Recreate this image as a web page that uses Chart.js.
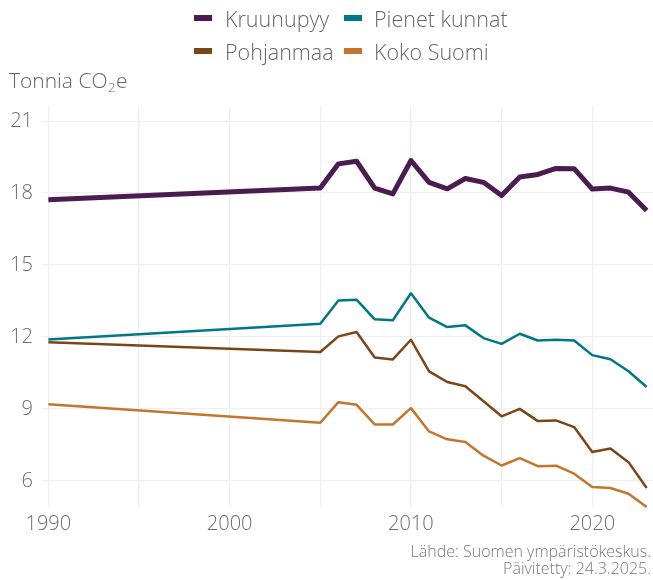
<!DOCTYPE html>
<html><head><meta charset="utf-8">
<script src="https://cdn.jsdelivr.net/npm/chart.js@4"></script>
<style>html,body{margin:0;padding:0;background:#fff}#wrap{width:653px;height:580px}</style>
</head><body><div id="wrap"><canvas id="c" width="653" height="580"></canvas></div>
<script>
const years = [1990,2005,2006,2007,2008,2009,2010,2011,2012,2013,2014,2015,2016,2017,2018,2019,2020,2021,2022,2023];
const kruunupyy = [17.72,18.21,19.22,19.33,18.21,17.97,19.36,18.45,18.18,18.61,18.45,17.90,18.67,18.78,19.03,19.02,18.17,18.21,18.04,17.28];
const pienetKunnat = [11.90,12.56,13.53,13.56,12.74,12.70,13.83,12.81,12.42,12.49,11.96,11.72,12.14,11.86,11.89,11.86,11.25,11.08,10.58,9.92];
const pohjanmaa = [11.79,11.38,12.03,12.21,11.15,11.07,11.89,10.57,10.13,9.95,9.33,8.70,9.01,8.50,8.53,8.25,7.21,7.36,6.79,5.71];
const kokoSuomi = [9.20,8.43,9.29,9.18,8.36,8.36,9.04,8.07,7.74,7.63,7.06,6.65,6.96,6.62,6.64,6.31,5.75,5.71,5.47,4.92];
const seriesNames = ['Kruunupyy','Pienet kunnat','Pohjanmaa','Koko Suomi'];
const xTicks = [1990,1995,2000,2005,2010,2015,2020];
const yTicks = [6,9,12,15,18,21];
const titleMain = 'Tonnia CO';
const titleSub = '2';
const titleEnd = 'e';
const captionLines = ['Lähde: Suomen ympäristökeskus.','Päivitetty: 24.3.2025.'];

const colors = ['#4b1c4f','#007884','#7a4619','#c5752b'];
const widths = [5,2.5,2.5,2.5];
const allSeries = [kruunupyy,pienetKunnat,pohjanmaa,kokoSuomi];
const FF = '"Open Sans", sans-serif';

const datasets = allSeries.map((s,i)=>({
  label: seriesNames[i],
  data: years.map((y,j)=>({x:y,y:s[j]})),
  borderColor: colors[i],
  backgroundColor: colors[i],
  borderWidth: widths[i],
  borderJoinStyle: 'round',
  pointRadius: 0,
  tension: 0,
  clip: false
}));

const extras = {
  id: 'extras',
  afterDraw(chart){
    const ctx = chart.ctx;
    ctx.save();
    const legPos = [[194,15,225,27],[344,15,374,27],[194,48,225,60],[344,48,374,60]];
    ctx.textBaseline = 'alphabetic';
    ctx.textAlign = 'left';
    ctx.font = '300 21.5px ' + FF;
    seriesNames.forEach((n,i)=>{
      const p = legPos[i];
      ctx.fillStyle = colors[i];
      ctx.fillRect(p[0],p[1],18,6);
      ctx.fillStyle = '#666666';
      ctx.fillText(n,p[2],p[3]);
    });
    ctx.fillStyle = '#666666';
    ctx.font = '300 21px ' + FF;
    ctx.fillText(titleMain, 9, 88);
    let w = ctx.measureText(titleMain).width;
    ctx.font = '300 13px ' + FF;
    ctx.fillText(titleSub, 9 + w + 0.5, 92);
    const w2 = ctx.measureText(titleSub).width;
    ctx.font = '300 21px ' + FF;
    ctx.fillText(titleEnd, 9 + w + w2 + 1, 88);
    ctx.textAlign = 'right';
    ctx.font = '300 16px ' + FF;
    ctx.fillStyle = '#777777';
    ctx.fillText(captionLines[0], 651, 557);
    ctx.fillText(captionLines[1], 651, 574);
    ctx.restore();
  }
};

new Chart(document.getElementById('c'), {
  type: 'line',
  data: { datasets },
  plugins: [extras],
  options: {
    responsive: false,
    devicePixelRatio: 1,
    animation: false,
    layout: { padding: { top: 107, left: 0, right: 0, bottom: 0 } },
    plugins: { legend: { display: false }, title: { display: false }, tooltip: { enabled: false } },
    scales: {
      x: {
        type: 'linear',
        min: 1989.65, max: 2023.35,
        afterBuildTicks: s => { s.ticks = xTicks.map(v=>({value:v})); },
        afterFit: s => { s.height = 73; },
        border: { display: false },
        grid: { color: '#efefef', lineWidth: 1.3, drawTicks: false },
        ticks: {
          autoSkip: false, maxRotation: 0, padding: 5,
          color: '#6b6b6b',
          font: { family: FF, size: 20, weight: '300' },
          callback: v => (v % 10 === 0 ? String(v) : '')
        }
      },
      y: {
        min: 4.92, max: 21.59,
        afterBuildTicks: s => { s.ticks = yTicks.map(v=>({value:v})); },
        afterFit: s => { s.width = 42; },
        border: { display: false },
        grid: { color: '#efefef', lineWidth: 1.3, drawTicks: false },
        ticks: {
          padding: 9,
          color: '#6b6b6b',
          font: { family: FF, size: 20, weight: '300' },
          callback: v => String(v)
        }
      }
    }
  }
});
</script>
</body></html>
